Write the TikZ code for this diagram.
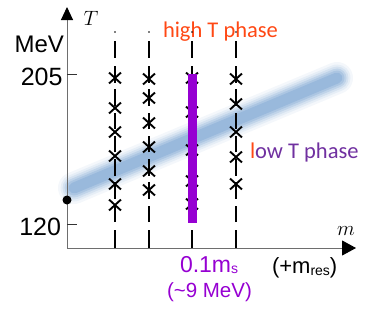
\documentclass[tikz,border=0pt]{standalone}
\usepackage{fontspec}
\setmainfont{Liberation Sans}
\newfontfamily\carl{Carlito}
\usetikzlibrary{arrows.meta,shapes.misc}
\definecolor{hiorange}{RGB}{255,72,20}
\definecolor{lopurple}{RGB}{112,48,160}
\definecolor{barviolet}{RGB}{150,0,210}
\definecolor{bandblue}{RGB}{110,155,205}
\definecolor{axisgray}{RGB}{110,110,110}
\begin{document}
\begin{tikzpicture}[x=1pt,y=-1pt,
  axis/.style={axisgray, line width=1pt},
  tickline/.style={black!80, line width=1pt},
  colline/.style={black, line width=1.3pt},
  xmark/.style={draw=black, cross out, line width=1.9pt, minimum width=10pt, minimum height=9pt, inner sep=0pt},
  lbl/.style={inner sep=0pt, outer sep=0pt},
]
\useasboundingbox (0,0) rectangle (374,308);
% blurred band
\coordinate (bl) at (74,188);
\coordinate (br) at (337,78);
\foreach \w/\o in {32/0.08,27/0.1,23/0.14,19/0.2,15/0.25,11/0.3}
  \draw[bandblue, line width=\w pt, opacity=\o, line cap=round] (bl) -- (br);
% labels
\node[lbl, anchor=base west, text=hiorange, font=\carl\fontsize{22.5}{22.5}\selectfont] (hi) at (163,37) {high T phase};
\node[lbl, anchor=base west, text=lopurple, font=\carl\fontsize{22.5}{22.5}\selectfont] (lo) at (250,158) {\textcolor{hiorange}{l}ow T phase};
% columns
\foreach \c/\x in {1/115,2/149,3/192,4/236} {
  \fill (\x,32) circle (0.9pt);
  \draw[colline] (\x,41) -- (\x,58);
  \draw[colline, dash pattern=on 16.5pt off 6.75pt] (\x,222) -- (\x,66);
  \draw[colline] (\x,230) -- (\x,248);
}
\foreach \y [count=\i] in {78,108,132,156,184,205} \node[xmark] (a\i) at (115,\y) {};
\foreach \y [count=\i] in {79,98,123,147,171,190} \node[xmark] (b\i) at (149,\y) {};
\foreach \y [count=\i] in {78,112,150,181,204} \node[xmark] (c\i) at (192,\y) {};
\foreach \y [count=\i] in {79,104,132,157,184} \node[xmark] (d\i) at (236,\y) {};
\node[fill=barviolet, inner sep=0pt, minimum width=9pt, minimum height=149pt] (bar) at (192.5,148.5) {};
% axes
\coordinate (O) at (67,248);
\coordinate (ytip) at (67,7);
\coordinate (xtip) at (356,248);
\draw[axis, -{Triangle[length=13pt,width=12pt,color=black]}] (O) -- (ytip);
\draw[axis, -{Triangle[length=14pt,width=15pt,color=black]}] (O) -- (xtip);
\coordinate (k1) at (67,74); \coordinate (k1e) at (77,74);
\coordinate (k2) at (67,224); \coordinate (k2e) at (77,224);
\draw[tickline] (k1) -- (k1e);
\draw[tickline] (k2) -- (k2e);
\node[circle, fill=black, inner sep=0pt, minimum size=9pt] (dot) at (67,200) {};
\node[lbl, anchor=base east, font=\fontsize{24}{24}\selectfont] (mev) at (64,52) {MeV};
\node[lbl, anchor=base east, font=\fontsize{25}{25}\selectfont] (t205) at (62.5,85) {205};
\node[lbl, anchor=base east, font=\fontsize{25}{25}\selectfont] (t120) at (61,235) {120};
\node[lbl, font=\fontsize{20}{20}\selectfont] (Tlab) at (91,18) {$T$};
\node[lbl, font=\fontsize{22}{22}\selectfont] (mlab) at (346,231) {$m$};
\node[lbl, anchor=base west, text=barviolet, font=\fontsize{23}{23}\selectfont] (ms) at (180,272) {0.1m\raisebox{-1.5pt}{\fontsize{14}{14}\selectfont s}};
\node[lbl, anchor=base west, text=barviolet, font=\fontsize{20.5}{20.5}\selectfont] (nine) at (167,297) {(\textasciitilde 9 MeV)};
\node[lbl, anchor=base west, font=\fontsize{22}{22}\selectfont] (mres) at (272,273) {(+m\raisebox{-2pt}{\fontsize{14}{14}\selectfont res})};
\end{tikzpicture}
\end{document}
